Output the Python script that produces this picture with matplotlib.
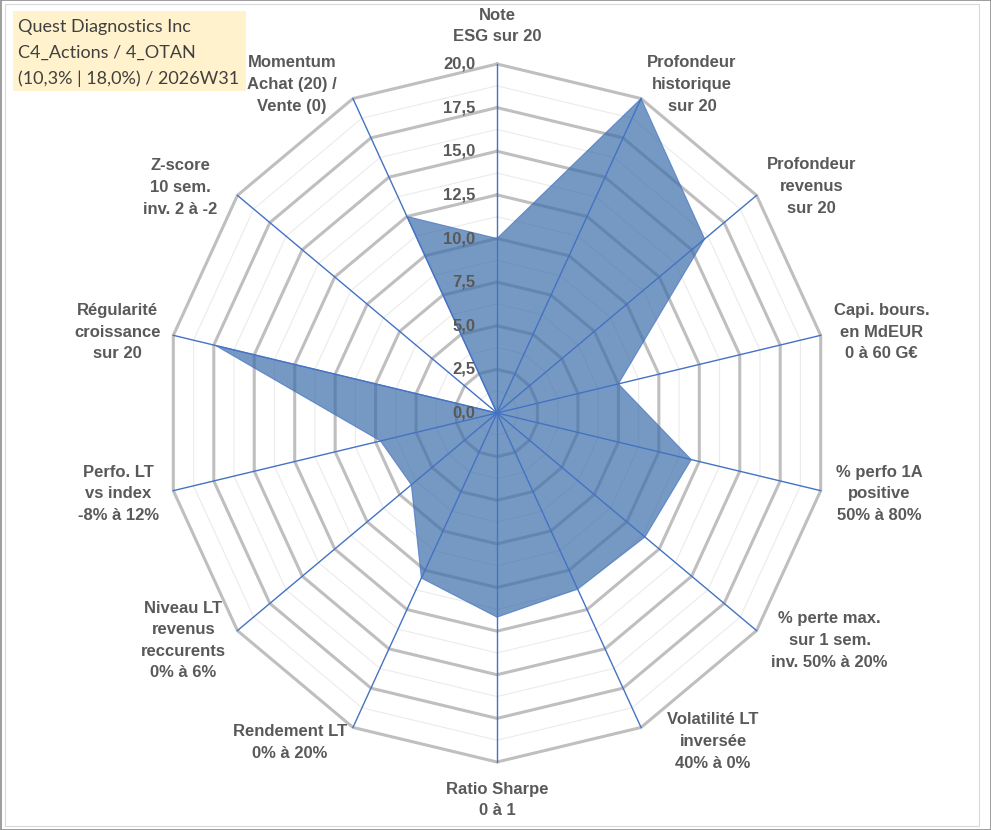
"""
Radar chart - Quest Diagnostics Inc (scores sur 20)
"""

import numpy as np
import matplotlib
matplotlib.use('Agg')
import matplotlib.pyplot as plt
from matplotlib.patches import Rectangle

# Axes du radar (sens horaire depuis le haut)
categories = [
    'Note\nESG sur 20',
    'Profondeur\nhistorique\nsur 20',
    'Profondeur\nrevenus\nsur 20',
    'Capi. bours.\nen MdEUR\n0 à 60 G€',
    '% perfo 1A\npositive\n50% à 80%',
    '% perte max.\nsur 1 sem.\ninv. 50% à 20%',
    'Volatilité LT\ninversée\n40% à 0%',
    'Ratio Sharpe\n0 à 1',
    'Rendement LT\n0% à 20%',
    'Niveau LT\nrevenus\nreccurents\n0% à 6%',
    'Perfo. LT\nvs index\n-8% à 12%',
    'Régularité\ncroissance\nsur 20',
    'Z-score\n10 sem.\ninv. 2 à -2',
    'Momentum\nAchat (20) /\nVente (0)',
]
scores = [10.0, 20.0, 16.0, 7.5, 12.0, 11.4, 11.2, 11.7, 10.5, 6.6, 7.2, 17.4, 0.0, 12.5]
ticks = [0, 2.5, 5, 7.5, 10, 12.5, 15, 17.5, 20]
title_lines = ['Quest Diagnostics Inc', 'C4_Actions / 4_OTAN', '(10,3% | 18,0%) / 2026W31']

# décalage (pixels) du centre de chaque étiquette par rapport au sommet de l'axe
label_offsets = [(0, 38), (51, 14), (55, 9), (61, 3), (59, -3), (73, -10), (72, -14),
                 (0, -38), (-63, -15), (-54, -10), (-55, -3), (-56, 3), (-57, 8), (-61, 14)]

r_max = 20
n = len(categories)
theta = np.arange(n) * 2 * np.pi / n
ux, uy = np.sin(theta), np.cos(theta)

W, H = 991, 830
fig = plt.figure(figsize=(W / 100, H / 100), dpi=100)

# repère cartésien légèrement étiré (x : 332 px / 20, y : 349 px / 20)
cx, cy = 497, 413
sx, sy = 332 / 20, 349 / 20
lim = 20.6
ax = fig.add_axes([(cx - lim * sx) / W, (H - cy - lim * sy) / H, 2 * lim * sx / W, 2 * lim * sy / H])
ax.set_xlim(-lim, lim)
ax.set_ylim(-lim, lim)
ax.set_aspect('auto')
ax.axis('off')

# grille polygonale : anneaux secondaires puis principaux
for r in np.arange(1.25, r_max, 2.5):
    ax.plot(np.append(r * ux, r * ux[0]), np.append(r * uy, r * uy[0]), color='#EBEBEB', lw=0.8, zorder=1)
for r in ticks[1:]:
    ax.plot(np.append(r * ux, r * ux[0]), np.append(r * uy, r * uy[0]), color='#BFBFBF', lw=2.2, zorder=2)

# zone des scores
vals = np.array(scores)
ax.fill(vals * ux, vals * uy, facecolor='#3C6EAA', alpha=0.7, edgecolor='#4472C4', lw=0.8, zorder=3)

# rayons
for i in range(n):
    ax.plot([0, r_max * ux[i]], [0, r_max * uy[i]], color='#4472C4', lw=1.0, zorder=4)

# graduations
for t in ticks:
    ax.text(-1.3, t, f'{t:.1f}'.replace('.', ','), ha='right', va='center',
            fontsize=12, fontweight='bold', color='#595959', family='Liberation Sans', zorder=5)

# étiquettes des axes
for i, lab in enumerate(categories):
    dx, dy = label_offsets[i]
    ax.annotate(lab, xy=(r_max * ux[i], r_max * uy[i]), xytext=(dx, dy), textcoords='offset pixels',
                ha='center', va='center', multialignment='center', fontsize=12, fontweight='bold',
                color='#595959', family='Liberation Sans', linespacing=1.55, annotation_clip=False)

# encadré titre
fig.patches.append(Rectangle((13 / W, 1 - 91 / H), 233 / W, 80 / H, transform=fig.transFigure,
                             facecolor='#FFF2CC', edgecolor='none', zorder=0))
fig.text(18 / W, 1 - 53 / H, '\n'.join(title_lines), ha='left', va='center', fontsize=13,
         color='#404040', family='Lato', linespacing=1.75)

# bordures
fig.patches.append(Rectangle((5 / W, 4 / H), 974 / W, 822 / H, transform=fig.transFigure,
                             facecolor='none', edgecolor='#D9D9D9', lw=0.8))
fig.patches.append(Rectangle((0.5 / W, 0.5 / H), 1 - 1 / W, 1 - 1 / H, transform=fig.transFigure,
                             facecolor='none', edgecolor='#8C8C8C', lw=1.2))

fig.savefig('out.png', dpi=100, facecolor='white')
plt.close(fig)
